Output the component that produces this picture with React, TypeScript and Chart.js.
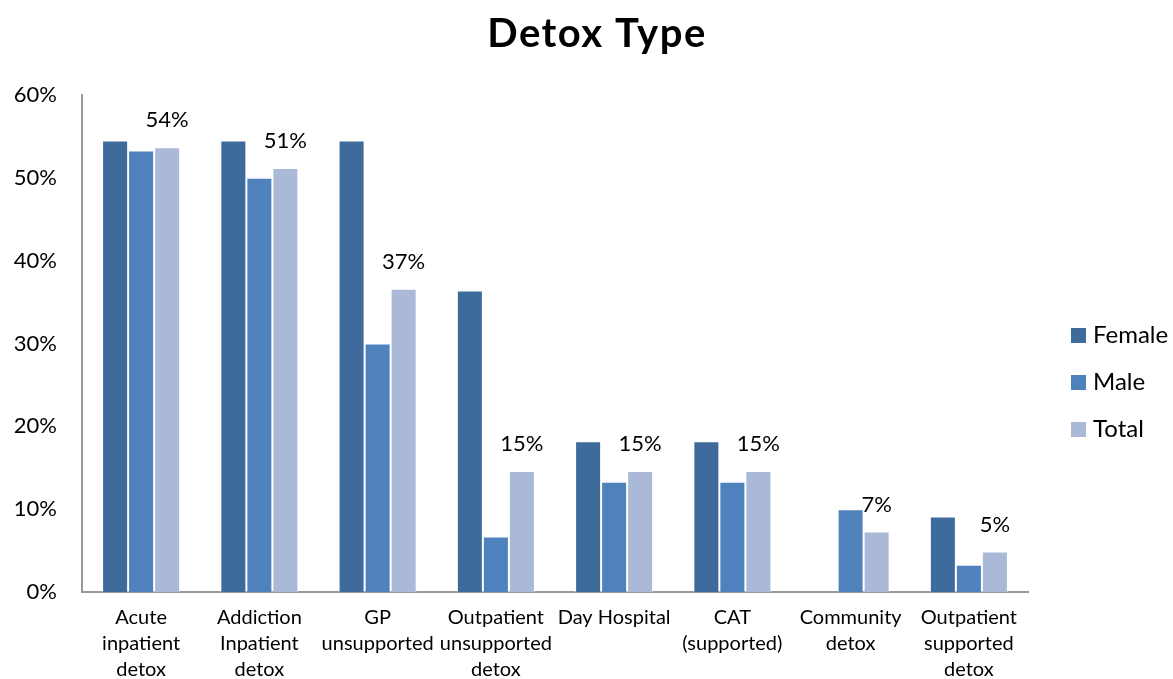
import { useEffect, useRef } from "react";
import { Chart, registerables } from "chart.js";

Chart.register(...registerables);

const categories: string[][] = [
  ["Acute", "inpatient", "detox"],
  ["Addiction", "Inpatient", "detox"],
  ["GP", "unsupported"],
  ["Outpatient", "unsupported", "detox"],
  ["Day Hospital"],
  ["CAT", "(supported)"],
  ["Community", "detox"],
  ["Outpatient", "supported", "detox"],
];

const female = [54.5, 54.5, 54.5, 36.4, 18.2, 18.2, 0, 9.1];
const male = [53.3, 50.0, 30.0, 6.7, 13.3, 13.3, 10.0, 3.3];
const total = [53.7, 51.2, 36.6, 14.6, 14.6, 14.6, 7.3, 4.9];

const yTicks = [0, 10, 20, 30, 40, 50, 60];

const FONT = "Lato, 'Open Sans', sans-serif";
const TEXT = "#000000";

// Title drawn centred above the plot
const titlePlugin = {
  id: "detoxTitle",
  afterDraw(chart: Chart) {
    const ctx = chart.ctx as any;
    ctx.save();
    ctx.font = `bold 40px ${FONT}`;
    ctx.letterSpacing = "1.5px";
    ctx.fillStyle = TEXT;
    ctx.textAlign = "center";
    ctx.textBaseline = "middle";
    ctx.fillText("Detox Type", 597, 34);
    ctx.restore();
  },
};

// Value labels above the Total bars
const totalLabelsPlugin = {
  id: "totalLabels",
  afterDatasetsDraw(chart: Chart) {
    const meta = chart.getDatasetMeta(2);
    const ctx = chart.ctx;
    ctx.save();
    ctx.font = `22px ${FONT}`;
    ctx.fillStyle = TEXT;
    ctx.textAlign = "center";
    ctx.textBaseline = "middle";
    meta.data.forEach((bar: any, i: number) => {
      const v = total[i];
      ctx.fillText(`${Math.round(v)}%`, bar.x, bar.y - 27);
    });
    ctx.restore();
  },
};

// Legend in a column to the right of the plot
const legendPlugin = {
  id: "sideLegend",
  afterDraw(chart: Chart) {
    const ctx = chart.ctx;
    ctx.save();
    ctx.font = `24px ${FONT}`;
    ctx.textBaseline = "middle";
    ctx.textAlign = "left";
    chart.data.datasets.forEach((ds: any, i: number) => {
      const cy = 335 + i * 47;
      ctx.fillStyle = ds.backgroundColor;
      ctx.fillRect(1071, cy - 7, 15, 15);
      ctx.fillStyle = TEXT;
      ctx.fillText(ds.label, 1093, cy);
    });
    ctx.restore();
  },
};

export default function App() {
  const canvasRef = useRef<HTMLCanvasElement | null>(null);

  useEffect(() => {
    if (!canvasRef.current) return;
    const chart = new Chart(canvasRef.current, {
      type: "bar",
      data: {
        labels: categories,
        datasets: [
          { label: "Female", data: female, backgroundColor: "#3E6A9C" },
          { label: "Male", data: male, backgroundColor: "#4F81BD" },
          { label: "Total", data: total, backgroundColor: "#AAB9D7" },
        ].map((d) => ({
          ...d,
          borderColor: "rgba(255,255,255,0.55)",
          borderWidth: 1,
          categoryPercentage: 0.66,
          barPercentage: 1.0,
        })),
      },
      options: {
        responsive: false,
        animation: false,
        layout: { padding: { top: 95, left: 0, right: 145, bottom: 0 } },
        plugins: {
          legend: { display: false },
          title: { display: false },
          tooltip: { enabled: false },
        },
        scales: {
          x: {
            grid: { display: false, drawTicks: false },
            border: { display: true, color: "#9a9a9a", width: 2 },
            ticks: {
              color: TEXT,
              font: { family: FONT, size: 20, lineHeight: 1.3 },
              padding: 13,
              maxRotation: 0,
              autoSkip: false,
            },
            afterFit: (s: any) => {
              s.height = 87;
            },
          },
          y: {
            min: 0,
            max: 60,
            afterBuildTicks: (s: any) => {
              s.ticks = yTicks.map((v) => ({ value: v }));
            },
            grid: { display: false, drawTicks: false },
            border: { display: true, color: "#9a9a9a", width: 2 },
            ticks: {
              color: TEXT,
              font: { family: FONT, size: 22 },
              padding: 25,
              callback: (v: any) => `${v}%`,
            },
            afterFit: (s: any) => {
              s.width = 82;
            },
          },
        },
      },
      plugins: [titlePlugin, totalLabelsPlugin, legendPlugin],
    });
    return () => chart.destroy();
  }, []);

  return (
    <div style={{ position: "fixed", left: 0, top: 0, width: 1173, height: 679, background: "#ffffff" }}>
      <canvas ref={canvasRef} width={1173} height={679} />
    </div>
  );
}
